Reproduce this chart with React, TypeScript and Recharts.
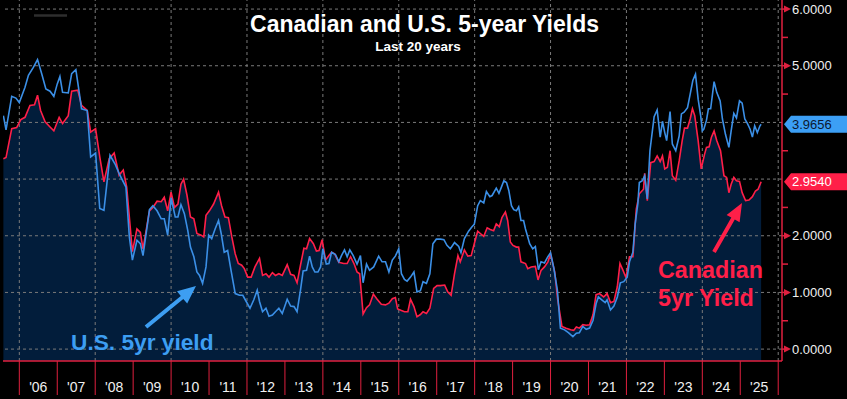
import React from 'react';
import { ComposedChart, Area, Line, XAxis, YAxis, ReferenceLine } from 'recharts';

// ---- Data (decimal year, yield %) ----
const usDates = [
  2005.58, 2005.65, 2005.80, 2005.91, 2006.00, 2006.15, 2006.24, 2006.37, 2006.48, 2006.59,
  2006.70, 2006.81, 2006.91, 2007.00, 2007.07, 2007.14, 2007.29, 2007.38, 2007.49, 2007.57,
  2007.64, 2007.79, 2007.88, 2008.01, 2008.12, 2008.23, 2008.39, 2008.52, 2008.65, 2008.81,
  2008.90, 2008.98, 2009.10, 2009.19, 2009.26, 2009.43, 2009.52, 2009.63, 2009.74, 2009.82,
  2009.91, 2010.00, 2010.11, 2010.18, 2010.26, 2010.35, 2010.44, 2010.51, 2010.60, 2010.68,
  2010.75, 2010.83, 2010.92, 2010.99, 2011.07, 2011.16, 2011.25, 2011.32, 2011.40, 2011.49,
  2011.58, 2011.69, 2011.80, 2011.89, 2011.98, 2012.08, 2012.18, 2012.27, 2012.33, 2012.41,
  2012.50, 2012.58, 2012.67, 2012.75, 2012.84, 2012.93, 2013.06, 2013.15, 2013.24, 2013.32,
  2013.41, 2013.48, 2013.57, 2013.65, 2013.72, 2013.79, 2013.87, 2013.94, 2014.00, 2014.09,
  2014.16, 2014.23, 2014.33, 2014.42, 2014.49, 2014.57, 2014.64, 2014.71, 2014.80, 2014.90,
  2014.99, 2015.06, 2015.15, 2015.23, 2015.34, 2015.47, 2015.56, 2015.65, 2015.74, 2015.83,
  2015.91, 2016.00, 2016.07, 2016.15, 2016.22, 2016.31, 2016.40, 2016.48, 2016.57, 2016.64,
  2016.73, 2016.82, 2016.90, 2016.99, 2017.10, 2017.19, 2017.27, 2017.36, 2017.47, 2017.58,
  2017.64, 2017.73, 2017.84, 2017.93, 2017.99, 2018.08, 2018.15, 2018.24, 2018.31, 2018.40,
  2018.46, 2018.57, 2018.64, 2018.70, 2018.77, 2018.84, 2018.90, 2018.97, 2019.03, 2019.10,
  2019.16, 2019.22, 2019.29, 2019.34, 2019.45, 2019.53, 2019.60, 2019.68, 2019.75, 2019.84,
  2019.93, 2020.00, 2020.09, 2020.18, 2020.26, 2020.37, 2020.47, 2020.59, 2020.68, 2020.76,
  2020.85, 2020.94, 2021.03, 2021.12, 2021.20, 2021.26, 2021.35, 2021.44, 2021.49, 2021.58,
  2021.67, 2021.76, 2021.84, 2021.93, 2022.02, 2022.08, 2022.17, 2022.23, 2022.30, 2022.34,
  2022.42, 2022.48, 2022.55, 2022.62, 2022.73, 2022.81, 2022.89, 2022.95, 2023.01, 2023.06,
  2023.15, 2023.21, 2023.30, 2023.39, 2023.45, 2023.52, 2023.61, 2023.68, 2023.75, 2023.82,
  2023.89, 2023.96, 2024.00, 2024.04, 2024.11, 2024.16, 2024.22, 2024.31, 2024.38, 2024.47,
  2024.53, 2024.61, 2024.70, 2024.76, 2024.83, 2024.90, 2024.98, 2025.05, 2025.12, 2025.19,
  2025.26, 2025.32, 2025.38, 2025.45, 2025.52, 2025.55,
];
const usYield = [
  4.12, 3.87, 4.46, 4.43, 4.35, 4.62, 4.83, 4.97, 5.11, 4.86,
  4.59, 4.55, 4.46, 4.68, 4.81, 4.53, 4.52, 4.86, 4.93, 4.57,
  4.24, 4.21, 3.39, 3.46, 2.48, 2.45, 3.42, 3.27, 3.07, 2.86,
  1.98, 1.57, 1.92, 1.86, 1.65, 2.46, 2.53, 2.44, 2.30, 2.30,
  2.01, 2.67, 2.33, 2.33, 2.55, 2.39, 2.09, 1.80, 1.63, 1.36,
  1.30, 1.16, 1.45, 2.01, 1.95, 2.12, 2.27, 2.04, 1.71, 1.74,
  1.39, 0.98, 0.95, 0.95, 0.84, 0.72, 0.87, 1.04, 0.84, 0.66,
  0.72, 0.58, 0.60, 0.66, 0.72, 0.63, 0.88, 0.76, 0.75, 0.66,
  1.04, 1.38, 1.39, 1.64, 1.45, 1.36, 1.36, 1.45, 1.77, 1.50,
  1.51, 1.71, 1.67, 1.54, 1.65, 1.75, 1.63, 1.75, 1.65, 1.50,
  1.65, 1.17, 1.50, 1.39, 1.45, 1.64, 1.54, 1.54, 1.36, 1.57,
  1.64, 1.77, 1.33, 1.23, 1.20, 1.27, 1.36, 1.01, 1.03, 1.19,
  1.16, 1.33, 1.86, 1.94, 1.94, 1.93, 1.83, 1.77, 1.88, 1.81,
  1.70, 1.95, 2.08, 2.16, 2.20, 2.53, 2.62, 2.58, 2.78, 2.69,
  2.71, 2.84, 2.75, 2.85, 2.97, 2.94, 2.80, 2.53, 2.46, 2.44,
  2.51, 2.27, 2.27, 2.12, 1.86, 1.77, 1.81, 1.40, 1.54, 1.52,
  1.63, 1.70, 1.42, 1.04, 0.37, 0.34, 0.29, 0.22, 0.28, 0.29,
  0.40, 0.35, 0.37, 0.51, 0.80, 0.92, 0.87, 0.82, 0.87, 0.69,
  0.76, 0.92, 1.17, 1.19, 1.27, 1.54, 1.71, 2.21, 2.56, 2.94,
  2.97, 3.06, 2.65, 3.50, 4.10, 4.22, 3.74, 4.02, 3.82, 3.68,
  4.19, 3.62, 3.50, 3.76, 4.15, 4.18, 4.26, 4.50, 4.74, 4.85,
  4.41, 4.10, 3.85, 3.88, 4.04, 4.24, 4.24, 4.72, 4.53, 4.38,
  4.06, 3.79, 3.56, 3.85, 4.16, 4.08, 4.38, 4.34, 4.06, 3.98,
  3.88, 3.74, 3.94, 3.82, 3.94, 3.9656,
];

const caDates = [
  2005.58, 2005.65, 2005.80, 2005.93, 2006.04, 2006.15, 2006.28, 2006.40, 2006.48, 2006.56,
  2006.68, 2006.81, 2006.91, 2007.05, 2007.14, 2007.29, 2007.38, 2007.54, 2007.64, 2007.79,
  2007.88, 2008.01, 2008.12, 2008.23, 2008.37, 2008.50, 2008.63, 2008.74, 2008.83, 2008.98,
  2009.10, 2009.19, 2009.26, 2009.43, 2009.52, 2009.63, 2009.74, 2009.82, 2009.91, 2010.00,
  2010.09, 2010.18, 2010.26, 2010.33, 2010.42, 2010.51, 2010.60, 2010.68, 2010.79, 2010.86,
  2010.92, 2011.01, 2011.12, 2011.25, 2011.33, 2011.42, 2011.51, 2011.60, 2011.69, 2011.77,
  2011.86, 2011.93, 2012.02, 2012.11, 2012.21, 2012.33, 2012.41, 2012.50, 2012.58, 2012.67,
  2012.75, 2012.84, 2012.93, 2013.06, 2013.15, 2013.24, 2013.32, 2013.41, 2013.50, 2013.57,
  2013.65, 2013.75, 2013.83, 2013.90, 2013.98, 2014.07, 2014.16, 2014.23, 2014.31, 2014.42,
  2014.55, 2014.64, 2014.73, 2014.82, 2014.90, 2014.97, 2015.06, 2015.15, 2015.23, 2015.33,
  2015.43, 2015.54, 2015.65, 2015.74, 2015.83, 2015.91, 2015.97, 2016.07, 2016.15, 2016.24,
  2016.31, 2016.40, 2016.48, 2016.57, 2016.64, 2016.73, 2016.82, 2016.92, 2017.01, 2017.10,
  2017.21, 2017.29, 2017.38, 2017.47, 2017.56, 2017.62, 2017.73, 2017.82, 2017.91, 2017.99,
  2018.08, 2018.15, 2018.24, 2018.33, 2018.41, 2018.50, 2018.57, 2018.65, 2018.72, 2018.81,
  2018.87, 2018.94, 2019.01, 2019.10, 2019.16, 2019.22, 2019.34, 2019.40, 2019.49, 2019.60,
  2019.67, 2019.75, 2019.84, 2019.93, 2020.00, 2020.11, 2020.19, 2020.30, 2020.41, 2020.53,
  2020.61, 2020.68, 2020.76, 2020.85, 2020.94, 2021.03, 2021.12, 2021.20, 2021.29, 2021.40,
  2021.49, 2021.58, 2021.67, 2021.76, 2021.83, 2021.91, 2021.99, 2022.08, 2022.17, 2022.26,
  2022.34, 2022.45, 2022.48, 2022.55, 2022.64, 2022.73, 2022.81, 2022.89, 2022.95, 2023.01,
  2023.08, 2023.15, 2023.21, 2023.30, 2023.39, 2023.47, 2023.53, 2023.61, 2023.68, 2023.74,
  2023.80, 2023.89, 2023.97, 2024.06, 2024.11, 2024.18, 2024.24, 2024.31, 2024.38, 2024.48,
  2024.57, 2024.64, 2024.70, 2024.76, 2024.83, 2024.90, 2024.98, 2025.05, 2025.14, 2025.23,
  2025.32, 2025.40, 2025.47, 2025.55,
];
const caYield = [
  3.36, 3.38, 3.89, 3.91, 4.05, 4.09, 4.30, 4.31, 4.48, 4.21,
  4.01, 3.92, 3.85, 4.09, 3.98, 4.12, 4.55, 4.57, 4.30, 4.21,
  3.83, 3.89, 3.39, 2.95, 3.36, 3.46, 3.07, 3.16, 2.86, 1.72,
  2.12, 2.06, 1.77, 2.44, 2.50, 2.61, 2.60, 2.68, 2.44, 2.77,
  2.50, 2.56, 2.91, 3.00, 2.71, 2.33, 2.30, 2.04, 2.01, 1.98,
  2.36, 2.44, 2.56, 2.77, 2.53, 2.33, 2.32, 1.98, 1.68, 1.51,
  1.48, 1.42, 1.27, 1.27, 1.45, 1.60, 1.30, 1.33, 1.27, 1.35,
  1.30, 1.33, 1.30, 1.49, 1.32, 1.30, 1.17, 1.48, 1.78, 1.77,
  1.95, 1.86, 1.73, 1.74, 1.93, 1.57, 1.65, 1.71, 1.68, 1.53,
  1.51, 1.51, 1.63, 1.51, 1.36, 1.33, 0.62, 0.73, 0.78, 0.97,
  0.88, 0.79, 0.78, 0.81, 0.89, 0.91, 0.71, 0.68, 0.66, 0.66,
  0.88, 0.75, 0.57, 0.61, 0.66, 0.63, 0.72, 1.07, 1.12, 1.12,
  1.13, 1.01, 0.95, 1.33, 1.65, 1.54, 1.75, 1.64, 1.65, 1.86,
  2.08, 2.04, 1.99, 2.14, 2.11, 2.09, 2.21, 2.16, 2.32, 2.42,
  2.27, 1.89, 1.83, 1.80, 1.80, 1.54, 1.51, 1.42, 1.45, 1.46,
  1.22, 1.39, 1.45, 1.54, 1.68, 1.36, 0.87, 0.40, 0.37, 0.34,
  0.33, 0.39, 0.37, 0.43, 0.42, 0.43, 0.61, 0.96, 0.98, 0.92,
  0.98, 0.82, 0.84, 1.10, 1.51, 1.39, 1.26, 1.63, 1.63, 2.47,
  2.74, 2.82, 3.10, 2.62, 3.29, 3.31, 3.41, 3.31, 3.41, 3.18,
  3.21, 3.50, 3.06, 2.98, 3.32, 3.68, 3.90, 3.90, 4.06, 4.24,
  4.12, 3.68, 3.18, 3.44, 3.56, 3.57, 3.74, 3.85, 3.68, 3.50,
  3.06, 3.03, 2.76, 2.91, 3.03, 2.97, 2.96, 2.76, 2.62, 2.63,
  2.69, 2.79, 2.82, 2.954,
];

const yearTicks = [
  2006, 2007, 2008, 2009, 2010, 2011, 2012, 2013, 2014, 2015, 2016,
  2017, 2018, 2019, 2020, 2021, 2022, 2023, 2024, 2025, 2026,
];
const yearLabels = [
  "'06", "'07", "'08", "'09", "'10", "'11", "'12", "'13", "'14", "'15",
  "'16", "'17", "'18", "'19", "'20", "'21", "'22", "'23", "'24", "'25",
];
const gridYears = [2006, 2008, 2010, 2012, 2014, 2016, 2018, 2020, 2022, 2024, 2026];
const yTicks = [0, 0.5, 1, 1.5, 2, 2.5, 3, 3.5, 4, 4.5, 5, 5.5, 6];
const gridYields = [0, 1, 2, 3, 4, 5, 6];

const usData = usDates.map((t, i) => ({ t, v: usYield[i] }));
const caData = caDates.map((t, i) => ({ t, v: caYield[i] }));
const usLast = usYield[usYield.length - 1];
const caLast = caYield[caYield.length - 1];

// ---- Layout / style ----
const W = 847;
const H = 399;
const MARGIN = { top: 0, right: 0, bottom: 0, left: 3 };
const Y_AXIS_W = 65;
const X_AXIS_H = 38;
const X_DOMAIN: [number, number] = [2005.57, 2026.1];
const Y_DOMAIN: [number, number] = [-0.21, 6.16];
const PLOT_W = W - MARGIN.left - MARGIN.right - Y_AXIS_W;
const PX_PER_YEAR = PLOT_W / (X_DOMAIN[1] - X_DOMAIN[0]);

const FONT = "'Liberation Sans', Arial, sans-serif";
const AXIS_RED = '#e0203f';
const BLUE = '#3b8fe6';
const RED = '#ff1f48';
const FILL = '#021d3b';
const GRID = '#7a7a7a';
const TEXT = '#f0f0f0';

// badges hide the axis labels they sit on
const coveredByBadge = (v: number) => Math.abs(v - usLast) < 0.2 || Math.abs(v - caLast) < 0.2;

const XTick = (props: any) => {
  const { x, y, payload } = props;
  const idx = yearTicks.indexOf(payload.value);
  const label = yearLabels[idx];
  return (
    <g>
      <line x1={x} x2={x} y1={y} y2={y + 34} stroke={AXIS_RED} strokeWidth={1} />
      {label ? (
        <text x={x + PX_PER_YEAR / 2} y={y + 31} textAnchor="middle" fill={TEXT} fontSize={14} fontFamily={FONT}>
          {label}
        </text>
      ) : null}
    </g>
  );
};

const YTick = (props: any) => {
  const { x, y, payload } = props;
  const v = payload.value as number;
  if (!Number.isInteger(v)) {
    return <line x1={x} x2={x + 6} y1={y} y2={y} stroke={AXIS_RED} strokeWidth={1.5} />;
  }
  if (coveredByBadge(v)) return <g />;
  return (
    <g>
      <line x1={x} x2={x + 3} y1={y} y2={y} stroke={AXIS_RED} strokeWidth={1.5} />
      <path d={`M${x + 2},${y - 3.5} L${x + 9},${y} L${x + 2},${y + 3.5} Z`} fill={AXIS_RED} />
      <text x={x + 10} y={y} dy="0.36em" fill={TEXT} fontSize={13} fontFamily={FONT}>
        {v.toFixed(4)}
      </text>
    </g>
  );
};

const makeBadge = (value: number, bg: string, fg: string) => (props: any) => {
  const vb = props.viewBox || {};
  const x = (vb.x ?? 0) + (vb.width ?? 0);
  const y = vb.y ?? 0;
  return (
    <g>
      <path
        d={`M${x + 2},${y} L${x + 9},${y - 8.5} L${W},${y - 8.5} L${W},${y + 8.5} L${x + 9},${y + 8.5} Z`}
        fill={bg}
      />
      <text x={x + 10} y={y} dy="0.36em" fill={fg} fontSize={13} fontFamily={FONT}>
        {value.toFixed(4)}
      </text>
    </g>
  );
};

const arrowPath = (x1: number, y1: number, x2: number, y2: number, shaft: number, headLen: number, headW: number) => {
  const dx = x2 - x1;
  const dy = y2 - y1;
  const len = Math.sqrt(dx * dx + dy * dy);
  const ux = dx / len;
  const uy = dy / len;
  const px = -uy;
  const py = ux;
  const bx = x2 - ux * headLen;
  const by = y2 - uy * headLen;
  const s = shaft / 2;
  const h = headW / 2;
  const pts = [
    [x1 + px * s, y1 + py * s],
    [bx + px * s, by + py * s],
    [bx + px * h, by + py * h],
    [x2, y2],
    [bx - px * h, by - py * h],
    [bx - px * s, by - py * s],
    [x1 - px * s, y1 - py * s],
  ];
  return 'M' + pts.map((p) => `${p[0].toFixed(1)},${p[1].toFixed(1)}`).join(' L') + ' Z';
};

export default function App() {
  return (
    <div style={{ position: 'absolute', left: 0, top: 0, width: W, height: H, background: '#000', overflow: 'hidden' }}>
      <ComposedChart width={W} height={H} margin={MARGIN} style={{ background: '#000' }}>
        <XAxis
          dataKey="t"
          type="number"
          domain={X_DOMAIN}
          allowDataOverflow
          ticks={yearTicks}
          interval={0}
          height={X_AXIS_H}
          tickSize={0}
          tickMargin={0}
          axisLine={{ stroke: AXIS_RED, strokeWidth: 1.5 }}
          tickLine={false}
          tick={(p: any) => <XTick {...p} />}
        />
        <YAxis
          orientation="right"
          type="number"
          domain={Y_DOMAIN}
          allowDataOverflow
          ticks={yTicks}
          interval={0}
          width={Y_AXIS_W}
          tickSize={0}
          tickMargin={0}
          axisLine={{ stroke: AXIS_RED, strokeWidth: 1.5 }}
          tickLine={false}
          tick={(p: any) => <YTick {...p} />}
        />
        <Area
          data={caData}
          dataKey="v"
          type="linear"
          stroke="none"
          fill={FILL}
          fillOpacity={1}
          baseValue={Y_DOMAIN[0]}
          isAnimationActive={false}
        />
        {gridYears.map((yr) => (
          <ReferenceLine key={`gx${yr}`} x={yr} stroke={GRID} strokeDasharray="3 3" strokeWidth={1} />
        ))}
        {gridYields.map((v) => (
          <ReferenceLine key={`gy${v}`} y={v} stroke={GRID} strokeDasharray="3 3" strokeWidth={1} />
        ))}
        <Line
          data={caData}
          dataKey="v"
          type="linear"
          stroke={RED}
          strokeWidth={1.6}
          dot={false}
          isAnimationActive={false}
        />
        <Line
          data={usData}
          dataKey="v"
          type="linear"
          stroke={BLUE}
          strokeWidth={1.6}
          dot={false}
          isAnimationActive={false}
        />
        <ReferenceLine y={usLast} stroke="none" label={makeBadge(usLast, '#3c9ff5', '#0b1830')} />
        <ReferenceLine y={caLast} stroke="none" label={makeBadge(caLast, '#ff1f48', '#ffffff')} />
      </ComposedChart>
      <svg
        width={W}
        height={H}
        style={{ position: 'absolute', left: 0, top: 0, pointerEvents: 'none' }}
      >
        <line x1={34} x2={67} y1={15.5} y2={15.5} stroke="#2e2e2e" strokeWidth={2.5} />
        <text x={424.5} y={32} textAnchor="middle" fill="#ffffff" fontSize={23} fontWeight="bold" fontFamily={FONT}>
          Canadian and U.S. 5-year Yields
        </text>
        <text x={418} y={50.5} textAnchor="middle" fill="#ffffff" fontSize={13.5} fontWeight="bold" fontFamily={FONT}>
          Last 20 years
        </text>
        <text x={71} y={350} fill="#3d9ef2" fontSize={22.7} fontWeight="bold" fontFamily={FONT}>
          U.S. 5yr yield
        </text>
        <path d={arrowPath(146, 327, 196, 286, 4, 18, 16)} fill="#3d9ef2" />
        <text x={658} y={278} fill={RED} fontSize={23.3} fontWeight="bold" fontFamily={FONT}>
          Canadian
        </text>
        <text x={658} y={306} fill={RED} fontSize={23.3} fontWeight="bold" fontFamily={FONT}>
          5yr Yield
        </text>
        <path d={arrowPath(714, 252, 742, 203, 4, 18, 15)} fill={RED} />
      </svg>
    </div>
  );
}
